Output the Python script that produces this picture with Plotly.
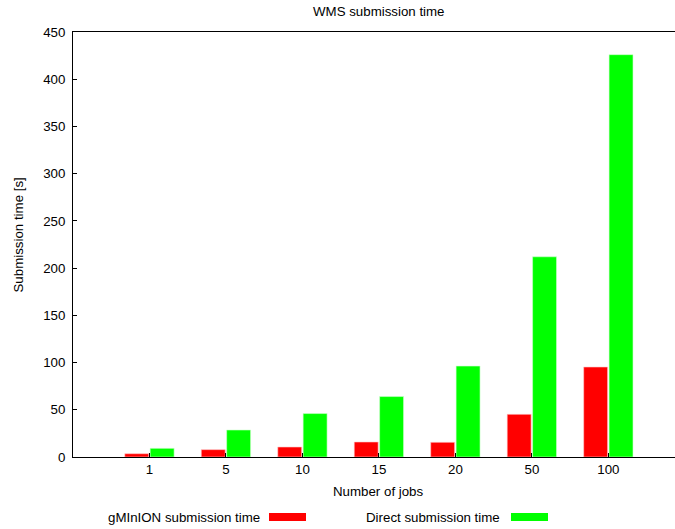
import plotly.graph_objects as go

categories = ["1", "5", "10", "15", "20", "50", "100"]
gminion = [3.5, 7.8, 10.6, 15.9, 15.6, 45.2, 95.3]
direct = [9.2, 28.6, 46.0, 64.0, 96.3, 212.0, 426.0]
series_names = ["gMInION submission time", "Direct submission time"]
colors = ["#ff0000", "#00ff00"]

xpos = list(range(len(categories)))
FONT = "Liberation Sans, Arial, Helvetica, sans-serif"
FS = 13.3

ML, MR, MT, MB = 73, 0, 32, 72
W, H = 675, 529
PW, PH = W - ML - MR, H - MT - MB


def px(x):
    return (x - ML) / PW


def py(y):
    return (H - MB - y) / PH


fig = go.Figure()
fig.add_trace(go.Bar(x=xpos, y=gminion, name=series_names[0], width=0.313, offset=-0.323,
                     marker=dict(color=colors[0], line=dict(color="#ffd0d0", width=0.6)),
                     showlegend=False))
fig.add_trace(go.Bar(x=xpos, y=direct, name=series_names[1], width=0.313, offset=0.009,
                     marker=dict(color=colors[1], line=dict(color="#d0ffd0", width=0.6)),
                     showlegend=False))

fig.update_layout(
    width=W, height=H,
    margin=dict(l=ML, r=MR, t=MT, b=MB),
    plot_bgcolor="white", paper_bgcolor="white",
    barmode="overlay",
    font=dict(family=FONT, size=FS, color="#000"),
    xaxis=dict(range=[-1, 6.871], tickvals=xpos, ticktext=categories,
               ticks="inside", ticklen=4, tickcolor="#000",
               showline=True, linecolor="#000", linewidth=1, mirror=True,
               showgrid=False, zeroline=False, tickfont=dict(size=FS)),
    yaxis=dict(range=[0, 450], dtick=50, ticks="inside", ticklen=4, tickcolor="#000",
               showline=True, linecolor="#000", linewidth=1,
               showgrid=False, zeroline=False, tickfont=dict(size=FS),
               ticklabelstandoff=4),
)

fig.add_annotation(text="WMS submission time", xref="paper", yref="paper",
                   x=px(379), y=py(12), showarrow=False, yanchor="middle",
                   font=dict(size=FS))
fig.add_annotation(text="Number of jobs", xref="paper", yref="paper",
                   x=px(378), y=py(491), showarrow=False, yanchor="middle",
                   font=dict(size=FS))
fig.add_annotation(text="Submission time [s]", xref="paper", yref="paper",
                   x=px(18), y=py(235.5), showarrow=False, textangle=-90,
                   xanchor="center", yanchor="middle", font=dict(size=FS))

# gnuplot-style legend at bottom: text then sample
legend_items = [(262, 269, 306), (502, 511, 548)]
for name, col, (tx, s0, s1) in zip(series_names, colors, legend_items):
    fig.add_annotation(text=name, xref="paper", yref="paper",
                       x=px(tx), y=py(517), xanchor="right", yanchor="middle",
                       showarrow=False, font=dict(size=FS))
    fig.add_shape(type="rect", xref="paper", yref="paper",
                  x0=px(s0), x1=px(s1), y0=py(521), y1=py(513),
                  fillcolor=col, line=dict(width=0))

fig.write_html("out.html")
